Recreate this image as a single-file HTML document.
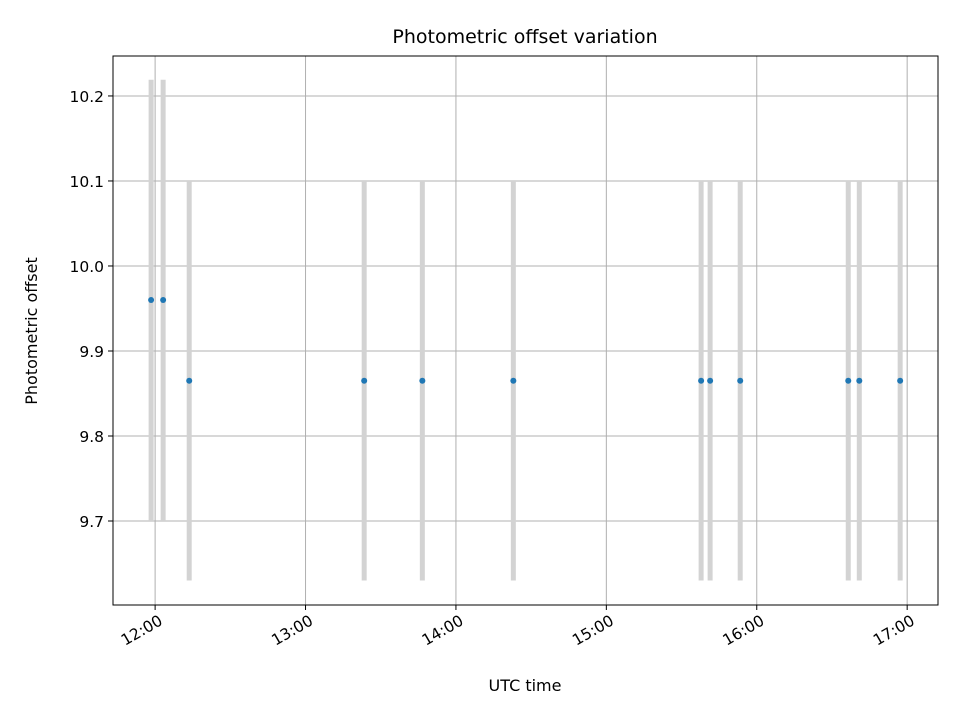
<!DOCTYPE html>
<html><head><meta charset="utf-8"><style>
body{margin:0;background:#fff;}
svg text{font-family:"DejaVu Sans","Liberation Sans",sans-serif;fill:#000;}
.tick{font-size:15.5px;}
.axt{font-size:16px;}
.ttl{font-size:19px;}
</style></head><body>
<svg id="chart" width="960" height="720" viewBox="0 0 960 720" xmlns="http://www.w3.org/2000/svg">
<rect width="960" height="720" fill="#fff"/>
<text class="ttl" x="525" y="43" text-anchor="middle">Photometric offset variation</text>
<text class="axt" x="525" y="691" text-anchor="middle">UTC time</text>
<text class="axt" transform="translate(37,331) rotate(-90)" text-anchor="middle">Photometric offset</text>
<g id="grid"></g>
<g id="marks"></g>
<rect x="113" y="56" width="825" height="549" fill="none" stroke="#000" stroke-width="1"/>
<g id="ticks"></g>
</svg>
<script>
// times in minutes since 00:00 UTC
const times = [718.4, 723.2, 733.6, 803.4, 826.6, 862.9, 937.8, 941.4, 953.4, 996.5, 1000.9, 1017.2];
const offsets = [9.96, 9.96, 9.865, 9.865, 9.865, 9.865, 9.865, 9.865, 9.865, 9.865, 9.865, 9.865];
const errors = [0.259, 0.259, 0.235, 0.235, 0.235, 0.235, 0.235, 0.235, 0.235, 0.235, 0.235, 0.235];
const yTicks = [9.7, 9.8, 9.9, 10.0, 10.1, 10.2];
const yTickLabels = ["9.7", "9.8", "9.9", "10.0", "10.1", "10.2"];
const xTicks = [720, 780, 840, 900, 960, 1020];
const xTickLabels = ["12:00", "13:00", "14:00", "15:00", "16:00", "17:00"];

const L=113,R=938,T=56,B=605;
const xMin=703.2,xMax=1032.3,yMin=9.6012,yMax=10.247;
const x=v=>L+(v-xMin)/(xMax-xMin)*(R-L);
const y=v=>B-(v-yMin)/(yMax-yMin)*(B-T);
const NS="http://www.w3.org/2000/svg";
function mk(tag,attrs,parent){const e=document.createElementNS(NS,tag);for(const k in attrs)e.setAttribute(k,attrs[k]);parent.appendChild(e);return e;}
const grid=document.getElementById('grid'),marks=document.getElementById('marks'),ticks=document.getElementById('ticks');
xTicks.forEach((t,i)=>{
  const g=mk('line',{x1:x(t),x2:x(t),y1:T,y2:B,stroke:'#b0b0b0','stroke-width':1},grid);
  
  
  const tk=mk('line',{x1:x(t),x2:x(t),y1:B,y2:B+5,stroke:'#000'},ticks);
  
  
  const lb=mk('text',{class:'tick',x:0,y:0,'text-anchor':'end','dominant-baseline':'hanging',transform:`translate(${x(t)+3},${B+9}) rotate(-30)`},ticks);
  lb.textContent=xTickLabels[i];
  
  
});
yTicks.forEach((t,i)=>{
  const g=mk('line',{x1:L,x2:R,y1:y(t),y2:y(t),stroke:'#b0b0b0','stroke-width':1},grid);
  
  
  const tk=mk('line',{x1:L-5,x2:L,y1:y(t),y2:y(t),stroke:'#000'},ticks);
  
  
  const lb=mk('text',{class:'tick',x:L-9,y:y(t)+6,'text-anchor':'end'},ticks);
  lb.textContent=yTickLabels[i];
  
  
});
times.forEach((t,i)=>{
  const e=mk('line',{x1:x(t),x2:x(t),y1:y(offsets[i]-errors[i]),y2:y(offsets[i]+errors[i]),stroke:'#d3d3d3','stroke-width':5},marks);
  
  
});
times.forEach((t,i)=>{
  const p=mk('circle',{cx:x(t),cy:y(offsets[i]),r:3,fill:'#1f77b4'},marks);
  
  
});
</script>
</body></html>
